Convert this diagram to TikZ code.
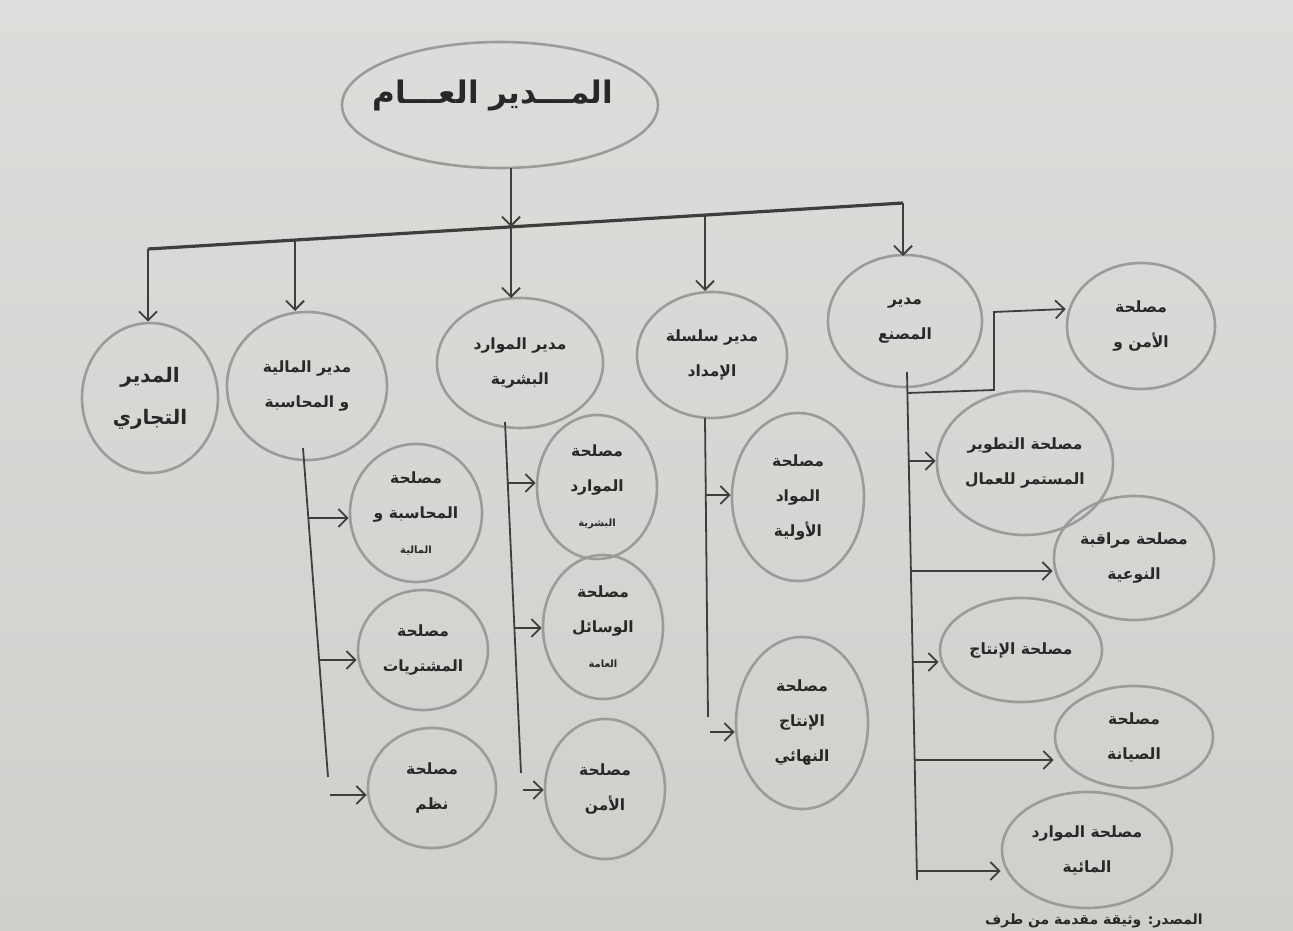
\documentclass[tikz,border=0pt]{standalone}
\usepackage{fontspec}
\usetikzlibrary{arrows.meta,shapes.geometric}
\TeXXeTstate=1
\newfontfamily\arabicfont[Script=Arabic]{DejaVu Sans}
\newcommand{\artxt}[1]{{\arabicfont\beginR #1\endR}}
\definecolor{papertop}{RGB}{221,221,219}
\definecolor{paperbot}{RGB}{207,207,204}
\definecolor{ringgray}{RGB}{155,155,153}
\definecolor{inkgray}{RGB}{62,62,62}
\definecolor{textgray}{RGB}{40,40,40}
\tikzset{
  ring/.style={ellipse, draw=ringgray, line width=2.6pt, inner sep=0pt, align=center,
    text=textgray, font=\arabicfont\bfseries\fontsize{15.5}{35}\selectfont},
  conn/.style={draw=inkgray, line width=1.8pt},
  barline/.style={draw=inkgray, line width=3.2pt},
  arr/.style={conn, -{Straight Barb[length=9pt,width=18pt,line width=1.8pt]}},
}
\newcommand{\smallar}[1]{{\fontsize{10}{12}\selectfont\artxt{#1}}}
\begin{document}
\begin{tikzpicture}[x=1pt,y=-1pt]
\useasboundingbox (0,0) rectangle (1293,931);
\shade[top color=papertop, bottom color=paperbot] (0,0) rectangle (1293,931);

% top
\node[ring, minimum width=316pt, minimum height=126pt] (top) at (500,105) {};
\node[text=textgray, font=\arabicfont\bfseries\fontsize{31}{34}\selectfont] (toptext) at (493,96) {\artxt{المـــدير العـــام}};

% level 2
\node[ring, minimum width=136pt, minimum height=150pt, font=\arabicfont\bfseries\fontsize{20}{42}\selectfont] (com) at (150,398) {\artxt{المدير}\\\artxt{التجاري}};
\node[ring, minimum width=160pt, minimum height=148pt] (fin) at (307,386) {\artxt{مدير المالية}\\\artxt{و المحاسبة}};
\node[ring, minimum width=166pt, minimum height=130pt] (hr) at (520,363) {\artxt{مدير الموارد}\\\artxt{البشرية}};
\node[ring, minimum width=150pt, minimum height=126pt] (sup) at (712,355) {\artxt{مدير سلسلة}\\\artxt{الإمداد}};
\node[ring, minimum width=154pt, minimum height=132pt] (fac) at (905,321) {\artxt{مدير}\\\artxt{المصنع}};

% factory departments
\node[ring, minimum width=148pt, minimum height=126pt] (sec) at (1141,326) {\artxt{مصلحة}\\\artxt{الأمن و}};
\node[ring, minimum width=176pt, minimum height=144pt] (dev) at (1025,463) {\artxt{مصلحة التطوير}\\\artxt{المستمر للعمال}};
\node[ring, minimum width=160pt, minimum height=124pt] (qual) at (1134,558) {\artxt{مصلحة مراقبة}\\\artxt{النوعية}};
\node[ring, minimum width=162pt, minimum height=104pt] (prod) at (1021,650) {\artxt{مصلحة الإنتاج}};
\node[ring, minimum width=158pt, minimum height=102pt] (maint) at (1134,737) {\artxt{مصلحة}\\\artxt{الصيانة}};
\node[ring, minimum width=170pt, minimum height=116pt] (water) at (1087,850) {\artxt{مصلحة الموارد}\\\artxt{المائية}};

% finance departments
\node[ring, minimum width=132pt, minimum height=138pt] (acc) at (416,513) {\artxt{مصلحة}\\\artxt{المحاسبة و}\\\smallar{المالية}};
\node[ring, minimum width=130pt, minimum height=120pt] (purch) at (423,650) {\artxt{مصلحة}\\\artxt{المشتريات}};
\node[ring, minimum width=128pt, minimum height=120pt] (sys) at (432,788) {\artxt{مصلحة}\\\artxt{نظم}};

% HR departments
\node[ring, minimum width=120pt, minimum height=144pt] (hrd) at (597,487) {\artxt{مصلحة}\\\artxt{الموارد}\\\smallar{البشرية}};
\node[ring, minimum width=120pt, minimum height=144pt] (gen) at (603,627) {\artxt{مصلحة}\\\artxt{الوسائل}\\\smallar{العامة}};
\node[ring, minimum width=120pt, minimum height=140pt] (hsec) at (605,789) {\artxt{مصلحة}\\\artxt{الأمن}};

% supply departments
\node[ring, minimum width=132pt, minimum height=168pt] (raw) at (798,497) {\artxt{مصلحة}\\\artxt{المواد}\\\artxt{الأولية}};
\node[ring, minimum width=132pt, minimum height=172pt] (fp) at (802,723) {\artxt{مصلحة}\\\artxt{الإنتاج}\\\artxt{النهائي}};

% caption at the bottom edge
\node[anchor=south east, text=textgray, font=\arabicfont\bfseries\fontsize{14}{16}\selectfont, inner sep=0pt] (src) at (1203,928) {\artxt{المصدر: وثيقة مقدمة من طرف}};

% connectors top
\coordinate (barL) at (148,249);
\coordinate (barR) at (903,203);
\coordinate (barC) at (511,227);
\draw[arr] (511,168) -- (barC);
\draw[barline] (barL) -- (barR);
\draw[arr] (barL) -- (barL |- com.north);
\draw[arr] (295,240) -- (295,311);
\draw[arr] (barC) -- (511,298);
\draw[arr] (705,215) -- (705,291);
\draw[arr] (barR) -- (903,256);

% finance trunk
\coordinate (ft1) at (303,448);
\coordinate (ft2) at (328,777);
\draw[conn] (ft1) -- (ft2);
\draw[arr] (308.5,518) -- (308.5,518 -| acc.west);
\draw[arr] (319,660) -- (319,660 -| purch.west);
\draw[arr] (330,795) -- (330,795 -| sys.west);

% HR trunk
\coordinate (ht1) at (505,422);
\coordinate (ht2) at (521,773);
\draw[conn] (ht1) -- (ht2);
\draw[arr] (508,483) -- (508,483 -| hrd.west);
\draw[arr] (514.5,628) -- (514.5,628 -| gen.west);
\draw[arr] (523,790) -- (523,790 -| hsec.west);

% supply trunk
\coordinate (st1) at (705,418);
\coordinate (st2) at (708,717);
\draw[conn] (st1) -- (st2);
\draw[arr] (705.5,495) -- (705.5,495 -| raw.west);
\draw[arr] (710,732) -- (710,732 -| fp.west);

% factory trunk
\coordinate (ct1) at (907,372);
\coordinate (ct2) at (917,880);
\draw[conn] (ct1) -- (ct2);
\draw[conn] (907.4,393) -- (994,390) -- (994,312);
\draw[arr] (993,312) -- (sec.west |- 993,309);
\draw[arr] (908.7,461) -- (908.7,461 -| dev.west);
\draw[arr] (910.9,571) -- (910.9,571 -| qual.west);
\draw[arr] (912.7,662) -- (912.7,662 -| prod.west);
\draw[arr] (914.7,760) -- (914.7,760 -| maint.west);
\draw[arr] (916.9,871) -- (916.9,871 -| water.west);
\end{tikzpicture}
\end{document}
